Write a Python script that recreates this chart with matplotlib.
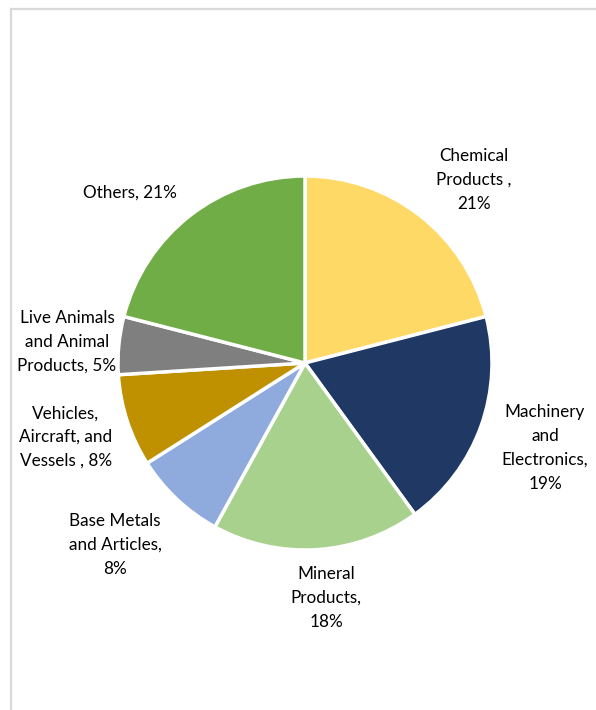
import matplotlib
matplotlib.use('Agg')
import matplotlib.pyplot as plt
from matplotlib.lines import Line2D

# Share of exports by product group (%)
categories = ['Chemical\nProducts ,', 'Machinery\nand\nElectronics,', 'Mineral\nProducts,',
              'Base Metals\nand Articles,', 'Vehicles,\nAircraft, and\nVessels ,',
              'Live Animals\nand Animal\nProducts,', 'Others,']
shares = [21, 19, 18, 8, 8, 5, 21]
colors = ['#FFD966', '#1F3864', '#A9D18E', '#8FAADC', '#BF9000', '#7F7F7F', '#70AD47']
# whether the percentage sits on its own line
value_on_new_line = [True, True, True, True, False, False, False]

plt.rcParams['font.family'] = ['Lato', 'DejaVu Sans']

W, H = 596, 710
fig = plt.figure(figsize=(W / 100, H / 100), dpi=100)
ax = fig.add_axes([0, 0, 1, 1])

cx, cy, r = 305, H - 363, 187
ax.pie(shares, colors=colors, startangle=90, counterclock=False,
       center=(cx, cy), radius=r, frame=True,
       wedgeprops=dict(edgecolor='white', linewidth=2.5))
ax.set_xlim(0, W)
ax.set_ylim(0, H)
ax.set_aspect('equal')
ax.axis('off')

# label anchor points (pixel positions, y from the top)
label_pos = [(474, 180), (545, 448), (326, 598), (115, 545), (66, 437), (67, 342), (130, 193)]
for name, val, newline, (lx, ly) in zip(categories, shares, value_on_new_line, label_pos):
    sep = '\n' if newline else ' '
    ax.text(lx, H - ly, f'{name}{sep}{val}%', ha='center', va='center', fontsize=12.3,
            linespacing=1.6, color='black')

# chart frame
fig.add_artist(Line2D([11 / W, 11 / W], [0, 1 - 9 / H], transform=fig.transFigure,
                      color='#D9D9D9', linewidth=1.6))
fig.add_artist(Line2D([11 / W, 1], [1 - 9 / H, 1 - 9 / H], transform=fig.transFigure,
                      color='#D9D9D9', linewidth=1.6))

fig.savefig('out.png', dpi=100, facecolor='white')
